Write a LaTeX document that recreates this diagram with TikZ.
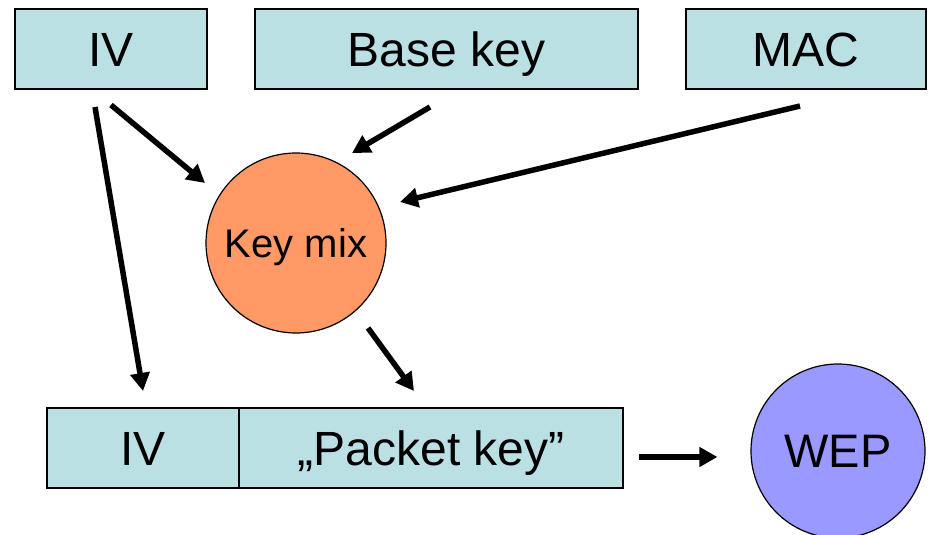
\documentclass[tikz,border=0pt]{standalone}
\usepackage{fontspec}
\setmainfont{Liberation Sans}
\usetikzlibrary{arrows.meta}
\definecolor{boxfill}{HTML}{BBE0E3}
\definecolor{mixfill}{HTML}{FF9966}
\definecolor{wepfill}{HTML}{9999FF}
\begin{document}
\begin{tikzpicture}[x=1pt,y=-1pt,
  keybox/.style={draw=black,line width=2pt,fill=boxfill,inner sep=0pt,
    font=\fontsize{48}{56}\selectfont,text depth=0pt,text height=34.4pt,
    minimum height=80pt},
  ball/.style={circle,draw=black,line width=1.2pt,inner sep=0pt,text depth=0pt},
  arr/.style={line width=5.5pt,-{Triangle[length=18pt,width=19pt]}}]
\useasboundingbox (0,0) rectangle (932,535);
% inputs
\node[keybox,minimum width=192pt] (iv) at (111,49) {IV};
\node[keybox,minimum width=383pt] (base) at (446.5,49) {Base key};
\node[keybox,minimum width=240pt] (mac) at (806,49) {MAC};
% mixing function
\node[ball,fill=mixfill,minimum size=180pt,text height=28.6pt,
  font=\fontsize{40}{48}\selectfont] (mix) at (296,243) {Key mix};
% per-packet key
\node[keybox,minimum width=192pt] (ivb) at (143,448) {IV};
\node[keybox,minimum width=384pt] (packet) at (431,448) {„Packet key”};
% cipher
\node[ball,fill=wepfill,minimum size=174pt,text height=33.7pt,
  font=\fontsize{47}{54}\selectfont] (wep) at (838,451) {WEP};
% connectors
\draw[arr] ([shift={(0,15)}]iv.south) -- ([shift={(-91,-60)}]mix.center);
\draw[arr] ([shift={(-16,17)}]iv.south) -- ([shift={(0,-16)}]ivb.north);
\draw[arr] ([shift={(-16.5,17)}]base.south) -- ([shift={(56,-90)}]mix.center);
\draw[arr] ([shift={(-6,16)}]mac.south) -- ([shift={(104,-41)}]mix.center);
\draw[arr] ([shift={(72,85)}]mix.center) -- ([shift={(-17,-16)}]packet.north);
\draw[arr] ([shift={(15,9)}]packet.east) -- ([shift={(-33,6)}]wep.west);
\end{tikzpicture}
\end{document}
